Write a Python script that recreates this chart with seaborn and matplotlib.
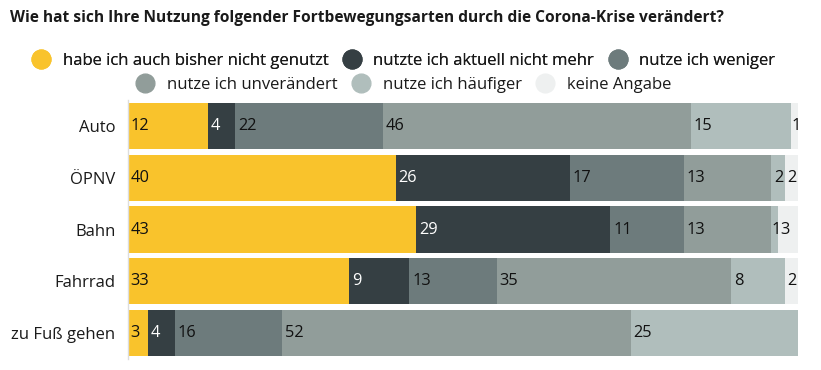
import numpy as np
import pandas as pd
import matplotlib
matplotlib.use("Agg")
import matplotlib.pyplot as plt
from matplotlib.lines import Line2D
import seaborn as sns

# Daten
categories = ["Auto", "ÖPNV", "Bahn", "Fahrrad", "zu Fuß gehen"]
series_names = [
    "habe ich auch bisher nicht genutzt",
    "nutzte ich aktuell nicht mehr",
    "nutze ich weniger",
    "nutze ich unverändert",
    "nutze ich häufiger",
    "keine Angabe",
]
nicht_genutzt = [12, 40, 43, 33, 3]
nicht_mehr = [4, 26, 29, 9, 4]
weniger = [22, 17, 11, 13, 16]
unveraendert = [46, 13, 13, 35, 52]
haeufiger = [15, 2, 1, 8, 25]
keine_angabe = [1, 2, 3, 2, 0]

colors = ["#F9C32C", "#353F43", "#6D7B7C", "#919D9A", "#B0BEBC", "#EEF0F0"]
text_colors = ["#111111", "white", "#111111", "#111111", "#111111", "#111111"]

values = np.array([nicht_genutzt, nicht_mehr, weniger, unveraendert, haeufiger, keine_angabe])
cum = values.cumsum(axis=0)
starts = cum - values

sns.set_theme(style="white")
plt.rcParams["font.family"] = ["Open Sans", "DejaVu Sans"]

fig = plt.figure(figsize=(8.21, 3.70), dpi=100)
ax = fig.add_axes([128 / 821, 1 - 359 / 370, 670 / 821, 259 / 370])

# gestapelte Balken: kumulierte Summen von hinten nach vorn übereinander zeichnen
for i in range(len(series_names) - 1, -1, -1):
    df = pd.DataFrame({"cat": categories, "val": cum[i]})
    sns.barplot(data=df, x="val", y="cat", orient="h", color=colors[i],
                saturation=1, width=0.89, ax=ax, linewidth=0)

# Werte
for i in range(len(series_names)):
    for j in range(len(categories)):
        v = values[i, j]
        if v == 0:
            continue
        pad = 0.0 if v < 2 else 0.4
        ax.text(starts[i, j] + pad, j, str(v), va="center", ha="left",
                fontsize=11.8, color=text_colors[i])

ax.set_xlim(0, 100)
ax.set_ylim(4.5, -0.5)
ax.set_xlabel("")
ax.set_ylabel("")
ax.set_xticks([])
ax.tick_params(axis="y", length=0, pad=9, labelsize=12, labelcolor="#1a1a1a")
for s in ["top", "right", "bottom"]:
    ax.spines[s].set_visible(False)
ax.spines["left"].set_color("#DDDDDD")
ax.spines["left"].set_linewidth(1)

fig.text(10 / 821, 1 - 18 / 370, "Wie hat sich Ihre Nutzung folgender Fortbewegungsarten durch die Corona-Krise verändert?",
         fontsize=11.2, fontweight="bold", va="center", ha="left", color="#1a1a1a")

# Legende in zwei zentrierten Zeilen
handles = [Line2D([], [], marker="o", linestyle="", markersize=13.5,
                  markerfacecolor=c, markeredgecolor=c) for c in colors]
leg_kw = dict(loc="center", ncol=3, frameon=False, fontsize=12,
              handletextpad=0.75, columnspacing=0.85, handlelength=1.1,
              labelcolor="#1a1a1a", borderpad=0, borderaxespad=0)
leg1 = fig.legend(handles[:3], series_names[:3],
                  bbox_to_anchor=(0.4915, 1 - 61 / 370), **leg_kw)
fig.add_artist(leg1)
fig.legend(handles[3:], series_names[3:],
           bbox_to_anchor=(0.4915, 1 - 85 / 370), **leg_kw)

fig.savefig("out.png", dpi=100)
